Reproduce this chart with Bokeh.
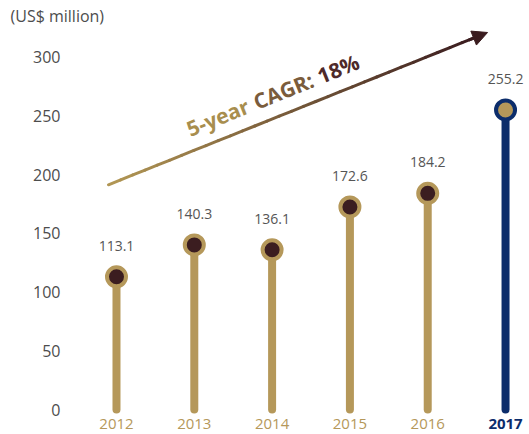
import numpy as np
from bokeh.plotting import figure
from bokeh.models import ColumnDataSource, Range1d, FixedTicker, Arrow, NormalHead
from bokeh.core.properties import value
from bokeh.embed import file_html
from bokeh.resources import INLINE

# ---- data ----
years = [2012, 2013, 2014, 2015, 2016, 2017]
year_labels = ["2012", "2013", "2014", "2015", "2016", "2017"]
revenue = [113.1, 140.3, 136.1, 172.6, 184.2, 255.2]
value_labels = ["113.1", "140.3", "136.1", "172.6", "184.2", "255.2"]
y_ticks = [0, 50, 100, 150, 200, 250, 300]
unit_label = "(US$ million)"
cagr_words = ["5-year", "CAGR:", "18%"]

# annotation geometry (data units)
cagr_arrow_start = (2011.897, 191.5)
cagr_arrow_end = (2016.769, 321.2)
cagr_text_anchor = (2012.913, 238.5)

GOLD = "#B5985A"
DARK = "#3B1D20"
NAVY = "#0C2D6B"
GREY = "#4D4D4D"
FONT = "Open Sans"

W, H = 529, 434
LEFT, TOP = 70, 26
X0, X1 = 2011.409, 2017.308
Y0, Y1 = -21.2, 324.6

stem_colors = [GOLD] * 5 + [NAVY]
dot_fill = [DARK] * 5 + [GOLD]
dot_line = [GOLD] * 5 + [NAVY]
year_colors = [GOLD] * 5 + [NAVY]
year_styles = ["normal"] * 5 + ["bold"]

src = ColumnDataSource(dict(
    year=years, value=revenue, zero=[0] * len(years),
    vlabel=value_labels, ylabel=year_labels,
    stem=stem_colors, dfill=dot_fill, dline=dot_line,
    ycolor=year_colors, ystyle=year_styles,
))

p = figure(width=W, height=H, output_backend="svg", toolbar_location=None,
           x_range=Range1d(X0, X1), y_range=Range1d(Y0, Y1),
           x_axis_location=None,
           min_border_left=LEFT, min_border_right=0, min_border_top=0, min_border_bottom=0)
p.outline_line_color = None
p.grid.visible = False
p.background_fill_color = "white"

p.title.text = unit_label
p.title.align = "left"
p.title.offset = -60
p.title.standoff = 4
p.title.text_font = FONT
p.title.text_font_size = "16px"
p.title.text_font_style = "normal"
p.title.text_color = GREY

ax = p.yaxis[0]
ax.ticker = FixedTicker(ticks=y_ticks)
ax.axis_line_color = None
ax.major_tick_line_color = None
ax.minor_tick_line_color = None
ax.major_tick_out = 0
ax.major_tick_in = 0
ax.major_label_standoff = 10
ax.major_label_text_font = FONT
ax.major_label_text_font_size = "16px"
ax.major_label_text_color = GREY

# stems
p.segment(x0="year", y0="zero", x1="year", y1="value", source=src,
          line_color="stem", line_width=8, line_cap="round")
# dots
p.scatter("year", "value", source=src, size=19, fill_color="dfill",
          line_color="dline", line_width=4)
# value labels
p.text("year", "value", text="vlabel", source=src, y_offset=-31,
       text_align="center", text_baseline="middle",
       text_font=value(FONT), text_font_size="14px", text_color="#555555")
# year labels
p.text("year", "zero", text="ylabel", source=src, y_offset=14,
       text_align="center", text_baseline="middle",
       text_font=value(FONT), text_font_size="15px",
       text_color="ycolor", text_font_style="ystyle")

# CAGR arrow with colour gradient
def hex2rgb(h):
    h = h.lstrip("#")
    return np.array([int(h[i:i + 2], 16) for i in (0, 2, 4)], dtype=float)

ARROW_DARK = "#3A1C1F"
c0, c1 = hex2rgb("#B39855"), hex2rgb(ARROW_DARK)
N = 30
xs, ys = cagr_arrow_start
xe, ye = cagr_arrow_end
frac_end = 0.965
t = np.linspace(0, frac_end, N + 1)
sx0 = xs + (xe - xs) * t[:-1]
sy0 = ys + (ye - ys) * t[:-1]
sx1 = xs + (xe - xs) * t[1:]
sy1 = ys + (ye - ys) * t[1:]
cols = []
for tt in (t[:-1] + t[1:]) / 2 / frac_end:
    c = c0 + (c1 - c0) * tt
    cols.append("#%02x%02x%02x" % tuple(int(round(v)) for v in c))
p.segment(sx0, sy0, sx1, sy1, line_color=cols, line_width=3, line_cap="round")
p.add_layout(Arrow(end=NormalHead(size=15, fill_color=ARROW_DARK,
                                  line_color=ARROW_DARK, line_width=1),
                   x_start=xs + (xe - xs) * 0.95, y_start=ys + (ye - ys) * 0.95,
                   x_end=xe, y_end=ye, line_color=ARROW_DARK, line_width=3))

# CAGR text, coloured per word along the arrow direction
px_per_x = (W - LEFT) / (X1 - X0)
px_per_y = (H - TOP) / (Y1 - Y0)
ang = np.arctan2((ye - ys) * px_per_y, (xe - xs) * px_per_x)
word_colors = ["#A88E4E", "#7A5C3C", "#4E2A2A"]
word_dist = [0, 72, 141]
for w, c, d in zip(cagr_words, word_colors, word_dist):
    p.text([cagr_text_anchor[0]], [cagr_text_anchor[1]], text=[w], angle=ang,
           x_offset=d * np.cos(ang), y_offset=-d * np.sin(ang),
           text_align="left", text_baseline="alphabetic",
           text_font=value(FONT), text_font_size="21px", text_font_style="bold",
           text_color=c)

open("out.html", "w").write(file_html(p, INLINE))
